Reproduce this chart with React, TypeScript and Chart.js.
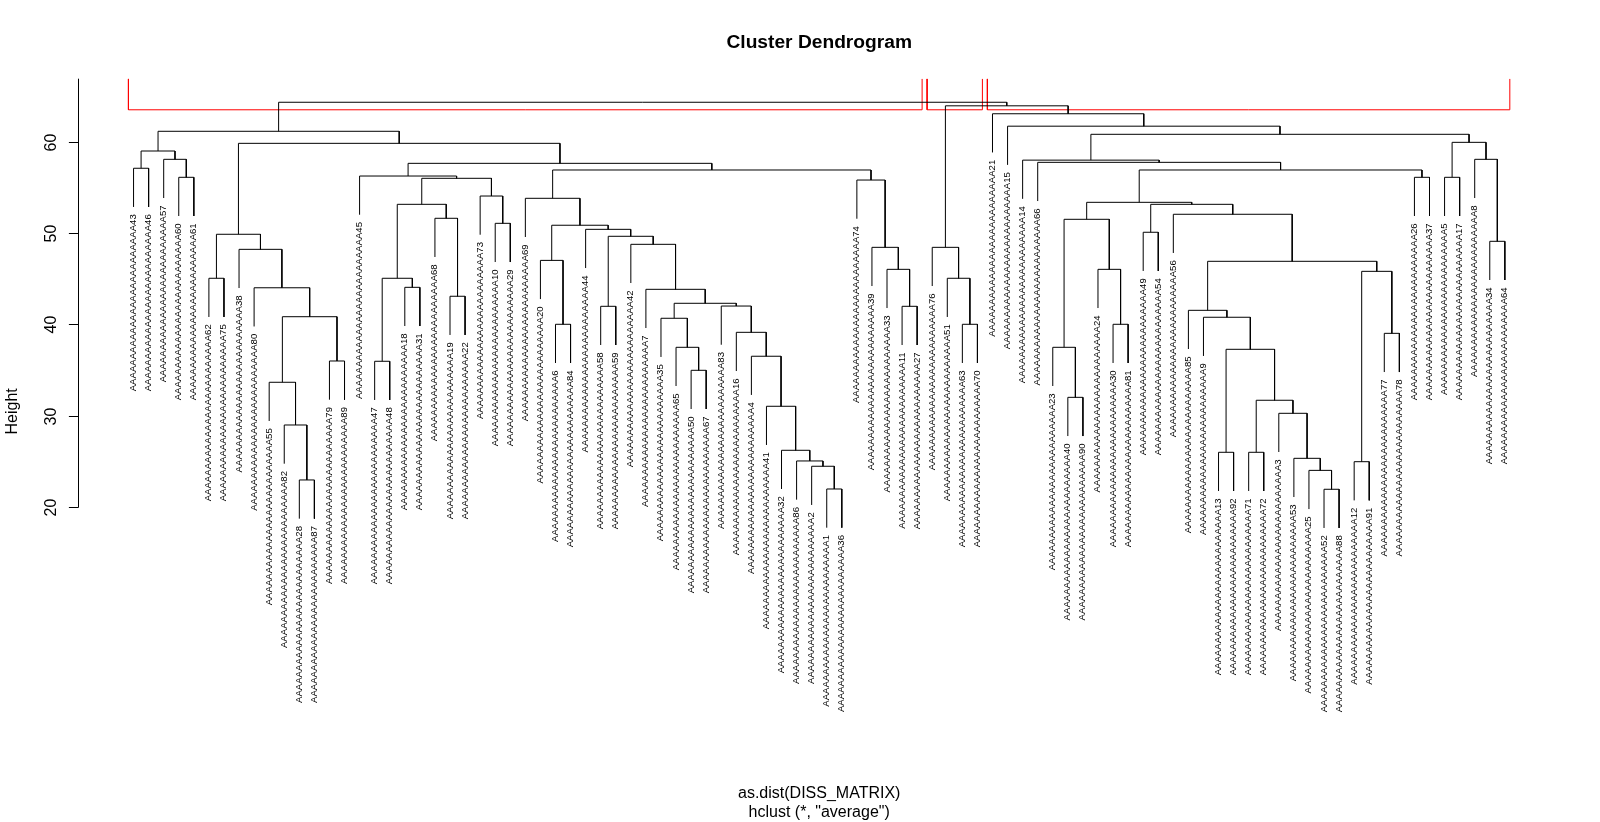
import { useEffect, useRef } from 'react';
import { Chart, registerables } from 'chart.js';

Chart.register(...registerables);

// ---- texts ----
const mainTitle = 'Cluster Dendrogram';
const yAxisTitle = 'Height';
const xAxisTitle = 'as.dist(DISS_MATRIX)';
const subTitle = 'hclust (*, "average")';
const labelPrefix = 'A'.repeat(25); // leaf labels are prefix + leaf id (e.g. "...A43")

// ---- axis ----
const yTicks = [20, 30, 40, 50, 60];
const yRange = [-3.78, 66.9];

// ---- merges: [node id, left child, right child, height] ----
const leftMerges: [string, string, string, number][] = [
  ['g1', 'A43', 'A46', 57.09],
  ['g2', 'A60', 'A61', 56.1],
  ['g3', 'A57', 'g2', 58.07],
  ['g4', 'g1', 'g3', 58.98],
  ['g5', 'A62', 'A75', 45.04],
  ['g6', 'A28', 'A87', 22.95],
  ['g7', 'A82', 'g6', 28.97],
  ['g8', 'A55', 'g7', 33.65],
  ['g9', 'A79', 'A89', 35.98],
  ['g10', 'g8', 'g9', 40.83],
  ['g11', 'A80', 'g10', 44.0],
  ['g12', 'A38', 'g11', 48.21],
  ['g13', 'g5', 'g12', 49.86],
  ['g14', 'A47', 'A48', 35.95],
  ['g15', 'A18', 'A31', 44.05],
  ['g16', 'g14', 'g15', 45.04],
  ['g17', 'A19', 'A22', 43.07],
  ['g18', 'A68', 'g17', 51.61],
  ['g19', 'g16', 'g18', 53.14],
  ['g20', 'A10', 'A29', 51.06],
  ['g21', 'A73', 'g20', 54.05],
  ['g22', 'g19', 'g21', 55.99],
  ['g23', 'A45', 'g22', 56.24],
  ['g24', 'A6', 'A84', 40.0],
  ['g25', 'A20', 'g24', 47.0],
  ['g26', 'A58', 'A59', 41.97],
  ['g27', 'A50', 'A67', 34.96],
  ['g28', 'A65', 'g27', 37.48],
  ['g29', 'A35', 'g28', 40.66],
  ['g30', 'A1', 'A36', 21.96],
  ['g31', 'A2', 'g30', 24.45],
  ['g32', 'A86', 'g31', 25.03],
  ['g33', 'A32', 'g32', 26.2],
  ['g34', 'A41', 'g33', 31.02],
  ['g35', 'A4', 'g34', 36.5],
  ['g36', 'A16', 'g35', 39.12],
  ['g37', 'A83', 'g36', 42.0],
  ['g38', 'g29', 'g37', 42.3],
  ['g39', 'A7', 'g38', 43.83],
  ['g40', 'A42', 'g39', 48.76],
  ['g41', 'g26', 'g40', 49.64],
  ['g42', 'A44', 'g41', 50.4],
  ['g43', 'g25', 'g42', 50.85],
  ['g44', 'A69', 'g43', 53.8],
  ['g45', 'A11', 'A27', 41.97],
  ['g46', 'A33', 'g45', 46.02],
  ['g47', 'A39', 'g46', 48.43],
  ['g48', 'A74', 'g47', 55.8],
  ['g49', 'g44', 'g48', 56.9],
  ['g50', 'g23', 'g49', 57.63],
  ['g51', 'g13', 'g50', 59.82],
  ['g52', 'g4', 'g51', 61.14],
];

const middleMerges: [string, string, string, number][] = [
  ['m1', 'A63', 'A70', 40.0],
  ['m2', 'A51', 'm1', 45.04],
  ['m3', 'A76', 'm2', 48.43],
];

const rightMerges: [string, string, string, number][] = [
  ['r1', 'A40', 'A90', 32.0],
  ['r2', 'A23', 'r1', 37.48],
  ['r3', 'A30', 'A81', 40.0],
  ['r4', 'A24', 'r3', 46.02],
  ['r5', 'r2', 'r4', 51.5],
  ['r6', 'A49', 'A54', 50.08],
  ['r7', 'A13', 'A92', 25.98],
  ['r8', 'A71', 'A72', 25.98],
  ['r9', 'A52', 'A88', 21.93],
  ['r10', 'A25', 'r9', 24.0],
  ['r11', 'A53', 'r10', 25.32],
  ['r12', 'A3', 'r11', 30.25],
  ['r13', 'r8', 'r12', 31.68],
  ['r14', 'r7', 'r13', 37.26],
  ['r15', 'A9', 'r14', 40.77],
  ['r16', 'A85', 'r15', 41.53],
  ['r17', 'A12', 'A91', 24.95],
  ['r18', 'A77', 'A78', 39.01],
  ['r19', 'r17', 'r18', 45.8],
  ['r20', 'r16', 'r19', 46.9],
  ['r21', 'A56', 'r20', 52.05],
  ['r22', 'r6', 'r21', 53.14],
  ['r23', 'r5', 'r22', 53.36],
  ['r24', 'A26', 'A37', 56.1],
  ['r25', 'r23', 'r24', 56.9],
  ['r26', 'A66', 'r25', 57.74],
  ['r27', 'A14', 'r26', 57.98],
  ['r28', 'A5', 'A17', 56.1],
  ['r29', 'A34', 'A64', 49.09],
  ['r30', 'A8', 'r29', 58.07],
  ['r31', 'r28', 'r30', 59.93],
  ['r32', 'r27', 'r31', 60.81],
  ['r33', 'A15', 'r32', 61.7],
  ['r34', 'A21', 'r33', 63.06],
];

const topMerges: [string, string, string, number][] = [
  ['t1', 'm3', 'r34', 63.93],
  ['t2', 'g52', 't1', 64.32],
];

const clusterCount = 3;
const hangFraction = 0.1;

// ---- build tree geometry ----
function buildTree() {
  const all = [...leftMerges, ...middleMerges, ...rightMerges, ...topMerges];
  const byId = new Map<string, { l: string; r: string; h: number }>();
  all.forEach(([id, l, r, h]) => byId.set(id, { l, r, h }));
  const children = new Set<string>();
  all.forEach(([, l, r]) => { children.add(l); children.add(r); });
  const root = all.find(([id]) => !children.has(id))![0];
  const heights = all.map((m) => m[3]);
  const hang = hangFraction * (Math.max(...heights) - Math.min(...heights));
  const leaves: { id: string; pos: number; h: number }[] = [];
  const segs: { x: number; y: number }[][] = [];
  let counter = 0;
  const walk = (id: string, parentH: number): number => {
    const m = byId.get(id);
    if (!m) {
      counter += 1;
      leaves.push({ id, pos: counter, h: parentH - hang });
      return counter;
    }
    const pl = walk(m.l, m.h);
    const pr = walk(m.r, m.h);
    const p = (pl + pr) / 2;
    const hl = byId.has(m.l) ? byId.get(m.l)!.h : m.h - hang;
    const hr = byId.has(m.r) ? byId.get(m.r)!.h : m.h - hang;
    segs.push([
      { x: pl, y: hl },
      { x: pl, y: m.h },
      { x: pr, y: m.h },
      { x: pr, y: hr },
    ]);
    return p;
  };
  walk(root, 0);
  // clusters for rect.hclust (k = clusterCount)
  const sorted = [...heights].sort((a, b) => b - a);
  const cut = (sorted[clusterCount - 2] + sorted[clusterCount - 1]) / 2;
  const groupRoots = [root];
  while (groupRoots.length < clusterCount) {
    let best = 0;
    groupRoots.forEach((g, i) => {
      const hg = byId.get(g)?.h ?? -Infinity;
      if (hg > (byId.get(groupRoots[best])?.h ?? -Infinity)) best = i;
    });
    const g = byId.get(groupRoots[best])!;
    groupRoots.splice(best, 1, g.l, g.r);
  }
  const countLeaves = (id: string): number => {
    const m = byId.get(id);
    return m ? countLeaves(m.l) + countLeaves(m.r) : 1;
  };
  const sizes = groupRoots.map(countLeaves);
  return { leaves, segs, cut, sizes, n: counter };
}

const tree = buildTree();

const dendroText = {
  id: 'dendroText',
  afterDatasetsDraw(chart: any) {
    const { ctx, chartArea } = chart;
    const xs = chart.scales.x;
    const ys = chart.scales.y;
    ctx.save();
    ctx.fillStyle = '#000';
    ctx.strokeStyle = '#000';
    // leaf labels
    ctx.font = '9.6px "Liberation Sans", Arial, sans-serif';
    tree.leaves.forEach((l) => {
      const px = xs.getPixelForValue(l.pos);
      const py = ys.getPixelForValue(l.h);
      ctx.save();
      ctx.translate(px + 2.5, py + 7.3);
      ctx.rotate(-Math.PI / 2);
      ctx.textAlign = 'right';
      ctx.textBaseline = 'alphabetic';
      ctx.fillText(labelPrefix + l.id, 0, 0);
      ctx.restore();
    });
    // y axis
    const ax = Math.floor(chartArea.left) + 0.5;
    ctx.lineWidth = 1;
    ctx.beginPath();
    ctx.moveTo(ax, Math.round(ys.getPixelForValue(yTicks[0])) + 0.5);
    ctx.lineTo(ax, chartArea.top);
    ctx.stroke();
    ctx.font = '16px "Liberation Sans", Arial, sans-serif';
    yTicks.forEach((t) => {
      const py = Math.round(ys.getPixelForValue(t)) + 0.5;
      ctx.beginPath();
      ctx.moveTo(ax, py);
      ctx.lineTo(ax - 9.6, py);
      ctx.stroke();
      ctx.save();
      ctx.translate(56, py);
      ctx.rotate(-Math.PI / 2);
      ctx.textAlign = 'center';
      ctx.textBaseline = 'alphabetic';
      ctx.fillText(String(t), 0, 0);
      ctx.restore();
    });
    // axis titles
    const cx = (chartArea.left + chartArea.right) / 2;
    const cy = (chartArea.top + chartArea.bottom) / 2;
    ctx.save();
    ctx.translate(17.3, cy + 10);
    ctx.rotate(-Math.PI / 2);
    ctx.textAlign = 'center';
    ctx.fillText(yAxisTitle, 0, 0);
    ctx.restore();
    ctx.textAlign = 'center';
    ctx.fillText(xAxisTitle, cx, 797.5);
    ctx.fillText(subTitle, cx, 816.5);
    ctx.font = 'bold 19.2px "Liberation Sans", Arial, sans-serif';
    ctx.fillText(mainTitle, cx, 47.5);
    ctx.restore();
  },
};

export default function App() {
  const ref = useRef<HTMLCanvasElement | null>(null);
  useEffect(() => {
    document.body.style.margin = '0';
    const canvas = ref.current!;
    const datasets: any[] = tree.segs.map((s) => ({
      data: s,
      showLine: true,
      borderColor: '#000000',
      borderWidth: 1,
      pointRadius: 0,
      fill: false,
    }));
    let start = 0;
    tree.sizes.forEach((size) => {
      const x0 = start + 0.66;
      const x1 = start + size + 0.33;
      datasets.push({
        data: [
          { x: x0, y: yRange[1] },
          { x: x0, y: tree.cut },
          { x: x1, y: tree.cut },
          { x: x1, y: yRange[1] },
        ],
        showLine: true,
        borderColor: '#FF0000',
        borderWidth: 1,
        pointRadius: 0,
        fill: false,
      });
      start += size;
    });
    const ext = 0.04 * (tree.n - 1);
    const chart = new Chart(canvas, {
      type: 'scatter',
      data: { datasets },
      options: {
        responsive: false,
        animation: false,
        devicePixelRatio: 1,
        layout: { padding: { left: 78.7, right: 40.3, top: 78.7, bottom: 98 } },
        scales: {
          x: { type: 'linear', min: 1 - ext, max: tree.n + ext, display: false },
          y: { type: 'linear', min: yRange[0], max: yRange[1], display: false },
        },
        plugins: {
          legend: { display: false },
          tooltip: { enabled: false },
        },
        events: [],
      },
      plugins: [dendroText],
    });
    return () => chart.destroy();
  }, []);
  return (
    <div style={{ position: 'absolute', left: 0, top: 0, width: 1600, height: 822, background: '#fff' }}>
      <canvas ref={ref} width={1600} height={822} />
    </div>
  );
}
